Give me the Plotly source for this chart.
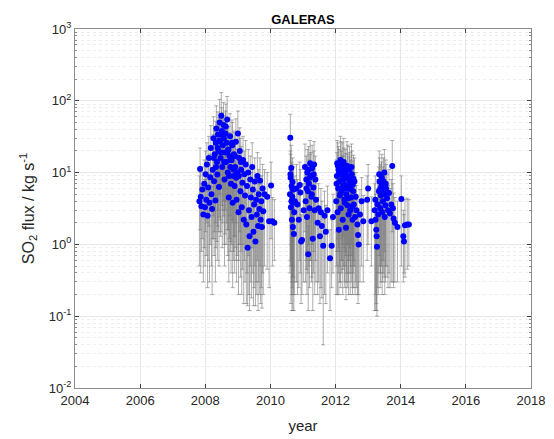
import plotly.graph_objects as go

# ---- Campaign 1 (2007.8 - 2010.1) ----
year_a = [2007.82, 2007.84, 2007.86, 2007.88, 2007.91, 2007.94, 2007.97, 2007.99, 2008.01, 2008.03,
          2008.05, 2008.07, 2008.09, 2008.11, 2008.13, 2008.15, 2008.17, 2008.19, 2008.21, 2008.23,
          2008.25, 2008.27, 2008.29, 2008.31, 2008.32, 2008.34, 2008.36, 2008.37, 2008.39, 2008.41,
          2008.42, 2008.44, 2008.46, 2008.47, 2008.49, 2008.51, 2008.52, 2008.54, 2008.56, 2008.57,
          2008.59, 2008.61, 2008.62, 2008.64, 2008.66, 2008.67, 2008.69, 2008.71, 2008.72, 2008.74,
          2008.76, 2008.77, 2008.79, 2008.81, 2008.83, 2008.84, 2008.86, 2008.88, 2008.90, 2008.92,
          2008.94, 2008.96, 2008.98, 2009.00, 2009.02, 2009.04, 2009.06, 2009.08, 2009.10, 2009.12,
          2009.14, 2009.16, 2009.18, 2009.20, 2009.22, 2009.24, 2009.26, 2009.28, 2009.30, 2009.32,
          2009.34, 2009.36, 2009.38, 2009.40, 2009.42, 2009.44, 2009.46, 2009.48, 2009.50, 2009.52,
          2009.54, 2009.56, 2009.58, 2009.60, 2009.62, 2009.64, 2009.66, 2009.68, 2009.70, 2009.72,
          2009.74, 2009.76, 2009.78, 2009.82, 2009.90, 2009.96, 2010.02, 2010.06, 2010.12,
          2008.26, 2008.33, 2008.38, 2008.43, 2008.48, 2008.53, 2008.58, 2008.63, 2008.68, 2008.73,
          2008.78, 2008.82, 2008.87, 2008.91, 2008.95, 2009.03, 2009.09]
flux_a = [4.0, 11.2, 4.6, 3.4, 5.8, 2.6, 7.0, 3.3, 9.5, 4.2,
          13, 2.5, 6.2, 16, 3.8, 8.6, 22, 5.0, 3.1, 11,
          30, 7.6, 18, 4.1, 26, 41, 14, 9.4, 34, 20,
          6.3, 50, 27, 16, 62, 38, 12, 24, 46, 30,
          8.0, 19, 35, 14, 26, 55, 10, 21, 4.5, 17,
          32, 12, 7.0, 15, 24, 3.8, 9.0, 18, 6.5, 12,
          27, 4.2, 10, 35, 2.8, 16, 20, 5.5, 11, 3.3,
          7.2, 15, 2.2, 9.5, 4.8, 13, 1.9, 6.5, 0.9, 10,
          3.0, 1.3, 8.0, 4.5, 2.4, 12, 5.8, 1.5, 3.6, 7.5,
          1.1, 4.2, 2.6, 9.0, 1.8, 5.0, 3.1, 7.7, 2.2, 4.0,
          1.75, 6.0, 2.9, 5.0, 4.6, 2.1, 6.6, 2.1, 2.0,
          16, 12, 22, 28, 19, 33, 14, 44, 20, 9,
          15, 26, 11, 17, 8.5, 9, 14]
lo_a = [0.5, 1.6, 0.4, 0.8, 1.2, 0.3, 0.9, 0.5, 1.5, 0.7,
        2.0, 0.25, 0.6, 1.8, 0.3, 1.0, 3.0, 0.5, 0.2, 1.2,
        2.5, 0.7, 1.5, 0.3, 2.0, 4.0, 1.1, 0.6, 3.0, 1.5,
        0.5, 5.0, 2.2, 1.3, 6.0, 3.5, 0.9, 2.0, 4.0, 2.5,
        0.5, 1.4, 3.0, 1.0, 2.0, 5.0, 0.7, 1.6, 0.3, 1.2,
        2.5, 0.8, 0.4, 1.0, 2.0, 0.25, 0.6, 1.3, 0.4, 0.9,
        2.0, 0.3, 0.7, 3.0, 0.2, 1.0, 1.5, 0.35, 0.8, 0.2,
        0.45, 1.0, 0.15, 0.6, 0.3, 0.9, 0.15, 0.4, 0.14, 0.7,
        0.2, 0.12, 0.5, 0.3, 0.18, 0.9, 0.4, 0.14, 0.25, 0.5,
        0.14, 0.3, 0.2, 0.6, 0.12, 0.3, 0.2, 0.5, 0.15, 0.25,
        0.13, 0.4, 0.2, 0.5, 0.45, 0.25, 1.2, 0.5, 0.6,
        1.2, 0.9, 1.8, 2.4, 1.5, 3.0, 1.0, 4.0, 1.6, 0.6,
        1.1, 2.2, 0.8, 1.3, 0.6, 0.6, 1.0]
hi_a = [9, 22, 10, 7, 12, 6, 15, 8, 20, 9,
        26, 5.5, 13, 32, 8, 18, 45, 10, 6.5, 24,
        60, 16, 38, 9, 52, 85, 30, 20, 70, 42,
        14, 105, 56, 34, 130, 80, 26, 50, 95, 62,
        17, 40, 72, 30, 55, 115, 22, 44, 10, 36,
        66, 25, 15, 32, 50, 8, 19, 38, 14, 25,
        56, 9, 21, 72, 6, 34, 42, 12, 23, 7,
        15, 32, 5, 20, 10, 28, 4.5, 14, 2.2, 21,
        6.5, 3, 17, 10, 5.2, 26, 12, 3.4, 8, 16,
        2.6, 9, 5.6, 19, 4, 11, 6.8, 16, 5, 9,
        4, 13, 6.4, 11, 10, 4.8, 14, 4.5, 4.2,
        34, 26, 46, 58, 40, 68, 30, 90, 42, 19,
        32, 54, 23, 36, 18, 19, 30]

# ---- Campaign 2 (2010.6 - 2011.95) ----
year_b = [2010.60, 2010.61, 2010.62, 2010.63, 2010.64, 2010.65, 2010.66, 2010.67, 2010.68, 2010.69,
          2010.70, 2010.71, 2010.72, 2010.73, 2010.75, 2010.80, 2010.83, 2010.87, 2010.90, 2010.92,
          2010.94, 2010.97, 2011.02, 2011.06, 2011.08, 2011.10, 2011.12, 2011.13, 2011.15, 2011.16,
          2011.18, 2011.20, 2011.22, 2011.24, 2011.26, 2011.28, 2011.30, 2011.32, 2011.34, 2011.36,
          2011.38, 2011.40, 2011.45, 2011.48, 2011.52, 2011.55, 2011.58, 2011.62, 2011.66, 2011.70,
          2011.75, 2011.83, 2011.88, 2011.92,
          2010.615, 2010.645, 2010.675, 2011.11, 2011.17, 2011.21, 2011.27, 2011.33]
flux_b = [5.0, 30.6, 8.5, 3.3, 11.6, 6.5, 2.2, 4.6, 7.4, 1.75,
          3.8, 5.8, 1.4, 2.8, 4.0, 6.0, 3.6, 2.2, 6.7, 5.3,
          1.1, 1.15, 3.0, 12, 4.0, 8.0, 2.4, 10, 5.5, 0.73,
          7.0, 3.2, 13.5, 9.0, 4.6, 11.5, 1.2, 6.2, 13, 3.0,
          8.0, 4.2, 2.0, 3.2, 1.3, 2.8, 1.8, 0.96, 2.5, 1.5,
          3.0, 0.64, 0.96, 2.4,
          9.5, 4.0, 6.0, 6.0, 11, 8.5, 5.0, 9.5]
lo_b = [0.4, 4.0, 0.5, 0.15, 1.0, 0.3, 0.12, 0.25, 0.5, 0.12,
        0.2, 0.35, 0.12, 0.2, 0.3, 0.3, 0.2, 0.25, 0.6, 0.4,
        0.15, 0.2, 0.3, 1.5, 0.3, 0.6, 0.2, 0.8, 0.4, 0.12,
        0.5, 0.25, 1.2, 0.6, 0.3, 1.0, 0.12, 0.4, 1.2, 0.2,
        0.6, 0.3, 0.2, 0.3, 0.15, 0.25, 0.18, 0.04, 0.2, 0.15,
        0.4, 0.12, 0.25, 0.4,
        0.6, 0.2, 0.35, 0.45, 1.0, 0.6, 0.35, 0.8]
hi_b = [11, 65, 18, 7.5, 24, 14, 5, 10, 16, 4,
        8, 12, 3.2, 6, 9, 13, 8, 5, 14, 11,
        2.6, 2.5, 7, 25, 9, 17, 5.5, 21, 12, 1.8,
        15, 7, 28, 19, 10, 24, 2.8, 13, 27, 6.5,
        17, 9, 4.5, 7, 3, 6, 4, 2.2, 5.5, 3.5,
        6.5, 1.6, 2.2, 5,
        20, 9, 13, 13, 23, 18, 11, 20]

# ---- Campaign 3 (2012.0 - 2013.1) ----
year_c = [2012.02, 2012.04, 2012.05, 2012.06, 2012.08, 2012.09, 2012.10, 2012.12, 2012.13, 2012.15,
          2012.16, 2012.18, 2012.19, 2012.21, 2012.22, 2012.24, 2012.25, 2012.27, 2012.29, 2012.30,
          2012.32, 2012.33, 2012.35, 2012.36, 2012.38, 2012.40, 2012.41, 2012.43, 2012.45, 2012.46,
          2012.48, 2012.50, 2012.52, 2012.54, 2012.56, 2012.58, 2012.60, 2012.62, 2012.64, 2012.67,
          2012.69, 2012.71, 2012.75, 2012.80, 2012.85, 2012.97, 2013.00, 2013.10,
          2012.03, 2012.07, 2012.11, 2012.14, 2012.17, 2012.20, 2012.23, 2012.26, 2012.28, 2012.31,
          2012.34, 2012.37, 2012.39, 2012.42, 2012.44, 2012.47, 2012.49, 2012.51, 2012.53, 2012.55]
flux_c = [4.0, 9.0, 13.5, 2.8, 6.0, 11, 1.6, 7.5, 4.8, 15,
          3.2, 9.5, 5.5, 12, 2.2, 8.0, 14, 4.2, 6.8, 10,
          1.7, 5.0, 12.5, 3.5, 8.5, 2.6, 6.0, 11, 3.0, 7.0,
          4.5, 9.5, 2.2, 5.5, 3.6, 7.5, 2.4, 4.6, 3.0, 1.9,
          1.35, 1.0, 2.6, 4.0, 2.1, 4.2, 6.0, 2.1,
          7.0, 12.5, 10, 5.0, 13, 8.0, 6.5, 10.5, 3.8, 8.8,
          6.0, 11.5, 4.4, 7.8, 9.0, 5.8, 12, 3.4, 6.8, 8.2]
lo_c = [0.2, 0.8, 1.5, 0.2, 0.4, 0.9, 0.2, 0.5, 0.3, 1.5,
        0.25, 0.6, 0.4, 1.0, 0.2, 0.5, 1.3, 0.3, 0.5, 0.8,
        0.17, 0.3, 1.0, 0.25, 0.6, 0.2, 0.4, 0.9, 0.2, 0.5,
        0.3, 0.7, 0.2, 0.4, 0.25, 0.5, 0.2, 0.3, 0.25, 0.2,
        0.15, 0.2, 0.3, 0.5, 0.3, 0.6, 1.0, 0.5,
        0.5, 1.2, 0.8, 0.3, 1.2, 0.6, 0.45, 0.9, 0.25, 0.7,
        0.4, 1.0, 0.3, 0.6, 0.7, 0.4, 1.0, 0.25, 0.5, 0.6]
hi_c = [9, 19, 28, 6, 13, 23, 3.6, 16, 10, 32,
        7, 20, 12, 26, 5, 17, 30, 9, 14, 21,
        4, 11, 27, 7.5, 18, 5.6, 13, 23, 6.5, 15,
        10, 20, 5, 12, 8, 16, 5.4, 10, 6.6, 4.2,
        3, 2.4, 5.8, 8.5, 4.8, 9, 13, 4.6,
        15, 26, 21, 11, 27, 17, 14, 22, 8.2, 18.5,
        13, 24, 9.5, 16.5, 19, 12.5, 25, 7.4, 14.5, 17.5]

# ---- Campaign 4 (2013.2 - 2014.3) ----
year_d = [2013.20, 2013.22, 2013.23, 2013.25, 2013.26, 2013.27, 2013.29, 2013.31, 2013.33, 2013.35,
          2013.37, 2013.39, 2013.41, 2013.43, 2013.45, 2013.47, 2013.49, 2013.51, 2013.53, 2013.55,
          2013.58, 2013.61, 2013.64, 2013.67, 2013.71, 2013.74, 2013.76, 2013.78, 2013.82, 2013.90,
          2014.02, 2014.08, 2014.10, 2014.13, 2014.20, 2014.25,
          2013.34, 2013.38, 2013.42, 2013.46, 2013.50, 2013.54]
flux_d = [3.0, 4.2, 2.2, 1.6, 1.3, 0.93, 3.6, 2.6, 5.5, 7.5,
          3.2, 4.8, 6.5, 2.8, 4.0, 7.6, 5.0, 2.4, 3.5, 6.0,
          4.4, 3.0, 5.2, 2.7, 3.6, 12.4, 3.2, 2.3, 2.0, 1.75,
          4.3, 1.3, 1.1, 1.85, 1.9, 1.9,
          9.5, 6.0, 8.5, 5.5, 10, 7.0]
lo_d = [0.12, 0.2, 0.12, 0.15, 0.12, 0.1, 0.25, 0.2, 0.4, 0.5,
        0.25, 0.3, 0.5, 0.2, 0.3, 0.6, 0.35, 0.2, 0.3, 0.5,
        0.35, 0.25, 0.4, 0.25, 0.3, 1.5, 0.3, 0.25, 0.3, 0.3,
        0.5, 0.3, 0.4, 0.35, 0.45, 0.5,
        0.7, 0.4, 0.6, 0.4, 0.8, 0.5]
hi_d = [7, 9, 5, 3.6, 3, 2.2, 8, 6, 12, 16,
        7, 10, 14, 6, 9, 16, 11, 5.4, 7.6, 13,
        9.5, 6.6, 11, 6, 8, 28, 7, 5.2, 4.5, 4,
        9, 3, 2.6, 4.2, 4.4, 4.2,
        20, 13, 18, 12, 21, 15]

x_ticks = [2004, 2006, 2008, 2010, 2012, 2014, 2016, 2018]
y_ticks = [0.01, 0.1, 1, 10, 100, 1000]
y_ticktext = ["10<sup>-2</sup>", "10<sup>-1</sup>", "10<sup>0</sup>",
              "10<sup>1</sup>", "10<sup>2</sup>", "10<sup>3</sup>"]

years = year_a + year_b + year_c + year_d
flux = flux_a + flux_b + flux_c + flux_d
lo = lo_a + lo_b + lo_c + lo_d
hi = hi_a + hi_b + hi_c + hi_d
err_plus = [h - f for h, f in zip(hi, flux)]
err_minus = [f - l for f, l in zip(flux, lo)]

minor_vals = [m * 10.0 ** e for e in range(-2, 3) for m in range(2, 10)]

fig = go.Figure()
fig.add_trace(go.Scatter(
    x=years, y=flux, mode="markers",
    marker=dict(color="#0000ff", size=6, line=dict(width=0)),
    error_y=dict(type="data", symmetric=False, array=err_plus, arrayminus=err_minus,
                 color="rgba(120,120,120,0.6)", thickness=1, width=2),
    showlegend=False,
))

# the page body has an 8px margin, so the figure is drawn 8px right and down
W, H = 546, 431
font_family = "Liberation Sans, Arial, sans-serif"
axis_color = "#262626"
fig.update_layout(
    width=W, height=H,
    margin=dict(l=67, r=23, t=21, b=51),
    paper_bgcolor="white", plot_bgcolor="white",
    font=dict(family=font_family, size=13, color=axis_color),
    title=dict(text="<b>GALERAS</b>", x=(67 + 523) / 2 / W, xanchor="center",
               y=1 - 11 / H, yanchor="middle", font=dict(size=13, color="#000000")),
)
fig.update_xaxes(
    range=[2004, 2018], tickvals=x_ticks, ticks="inside", ticklen=4,
    showline=True, linecolor="#8c8c8c", linewidth=1, mirror="ticks",
    showgrid=True, gridcolor="#e6e6e6", gridwidth=1, zeroline=False,
    tickfont=dict(size=13, color=axis_color),
    title=dict(text="year", font=dict(size=15, color=axis_color), standoff=13),
    automargin=False,
)
fig.update_yaxes(
    type="log", range=[-2, 3], tickvals=y_ticks, ticktext=y_ticktext,
    ticks="inside", ticklen=4, showline=True, linecolor="#8c8c8c", linewidth=1,
    mirror="ticks", showgrid=True, gridcolor="#e6e6e6", gridwidth=1, zeroline=False,
    tickfont=dict(size=13, color=axis_color),
    minor=dict(tickvals=minor_vals, ticks="inside", ticklen=2, tickcolor="#8c8c8c",
               showgrid=True, gridcolor="#ededed", griddash="dot", gridwidth=1),
    title=dict(text="SO<sub>2</sub> flux / kg s<sup>-1</sup>",
               font=dict(size=16, color=axis_color), standoff=10),
    automargin=False,
)

fig.write_html("out.html")
